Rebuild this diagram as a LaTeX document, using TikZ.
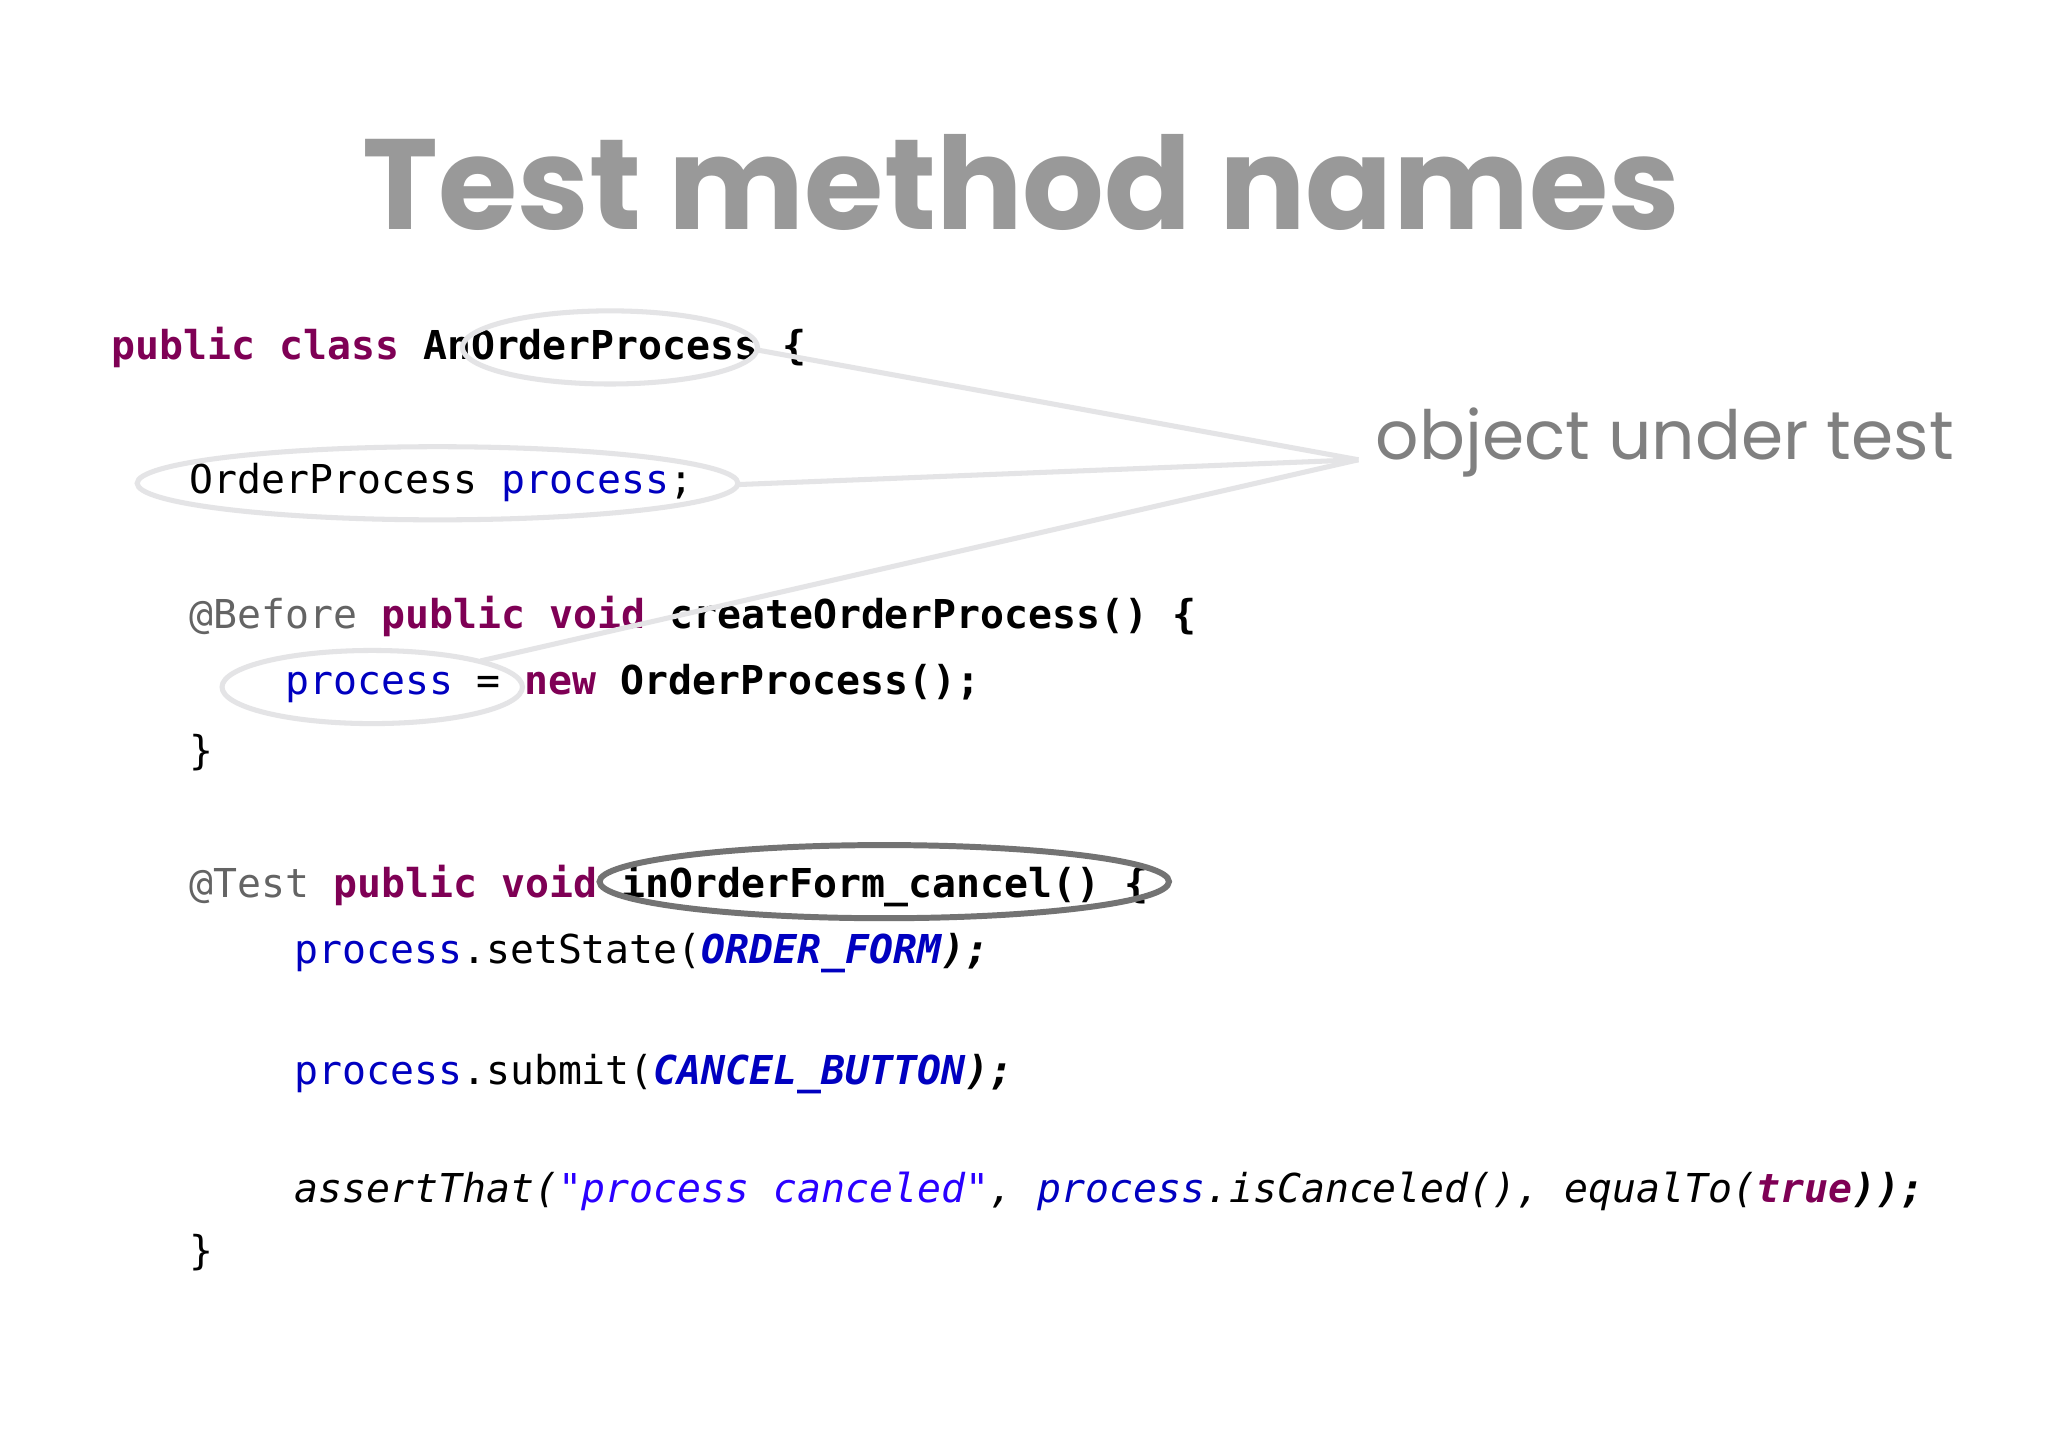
\documentclass[tikz,border=0pt]{standalone}
\usepackage{fontspec}
\setmonofont{DejaVu Sans Mono}
\newfontfamily\popp{Poppins}
\definecolor{kw}{HTML}{7F0055}
\definecolor{fld}{HTML}{0000C0}
\definecolor{ann}{HTML}{646464}
\definecolor{strc}{HTML}{2A00FF}
\definecolor{ring}{HTML}{E4E4E6}
\newcommand{\kw}[1]{\textcolor{kw}{\bfseries #1}}
\newcommand{\fl}[1]{\textcolor{fld}{#1}}
\newcommand{\cn}[1]{\textcolor{fld}{\bfseries\itshape #1}}
\newcommand{\an}[1]{\textcolor{ann}{#1}}
\begin{document}
\begin{tikzpicture}[x=0.02cm,y=-0.02cm,
  code/.style={anchor=base west,inner sep=0,font=\ttfamily\fontsize{17.35}{20}\selectfont},
  lite/.style={draw=ring,line width=2.2pt},
  dark/.style={draw=black!55,line width=2.6pt}]
\useasboundingbox (0,0) rectangle (1568,1109);
\fill[white] (0,0) rectangle (1568,1109);
\node[anchor=base,inner sep=0,text=black!40,font=\popp\bfseries\fontsize{56}{62}\selectfont] (title) at (782,176) {Test method names};
\node[code] (l1) at (85,275) {\kw{public} \kw{class} \textbf{AnOrderProcess \{}};
\node[code] (l2) at (145,378) {OrderProcess \fl{process};};
\node[code] (l3) at (145,481) {\an{@Before} \kw{public} \kw{void} \textbf{createOrderProcess() \{}};
\node[code] (l4) at (218,532) {\fl{process} = \kw{new} \textbf{OrderProcess();}};
\node[code] (l5) at (145,585) {\}};
\node[code] (l6) at (145,687) {\an{@Test} \kw{public} \kw{void} \textbf{inOrderForm\_cancel() \{}};
\node[code] (l7) at (225,738) {\fl{process}.setState(\cn{ORDER\_FORM}\textbf{\itshape);}};
\node[code] (l8) at (225,830) {\fl{process}.submit(\cn{CANCEL\_BUTTON}\textbf{\itshape);}};
\node[code] (l9) at (225,921) {\itshape assertThat(\textcolor{strc}{"process canceled"}, \fl{process}.isCanceled(), equalTo(\kw{true}\textbf{));}};
\node[code] (l10) at (145,968) {\}};
\node[anchor=base west,inner sep=0,text=black!50,font=\popp\fontsize{29.6}{33}\selectfont] (lbl) at (1053,352) {object under test};
\coordinate (hub) at (1040,352);
\draw[lite] (467,266) ellipse [x radius=113,y radius=28];
\draw[lite] (335,370) ellipse [x radius=230,y radius=28];
\draw[lite] (285,526) ellipse [x radius=115,y radius=28];
\draw[lite] (hub) -- (580,268);
\draw[lite] (hub) -- (565,371);
\draw[lite] (hub) -- (368,506);
\draw[dark] (677,675) ellipse [x radius=218,y radius=28];
\end{tikzpicture}
\end{document}
